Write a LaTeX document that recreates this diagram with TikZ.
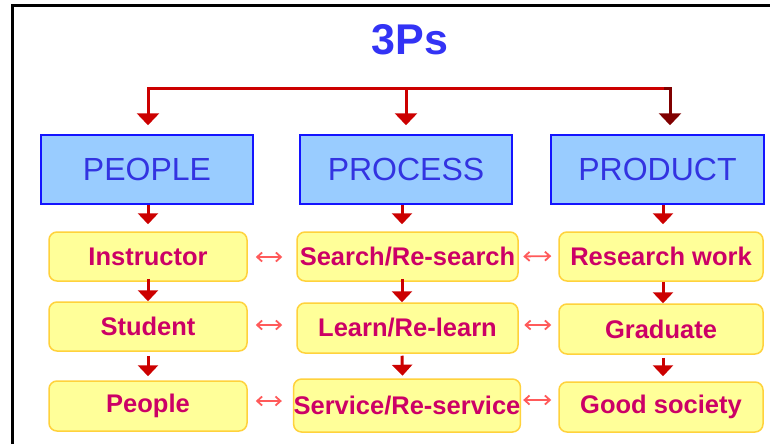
\documentclass[tikz,border=0pt]{standalone}
\usepackage{fontspec}
\setmainfont{Liberation Sans}
\usetikzlibrary{arrows.meta}
\definecolor{titleblue}{RGB}{51,51,245}
\definecolor{labelblue}{RGB}{51,51,225}
\definecolor{boxblue}{RGB}{153,204,255}
\definecolor{edgeblue}{RGB}{20,20,255}
\definecolor{arrred}{RGB}{204,0,0}
\definecolor{arrdark}{RGB}{128,0,0}
\definecolor{lightred}{RGB}{255,90,90}
\definecolor{boxyellow}{RGB}{255,255,153}
\definecolor{edgeyellow}{RGB}{255,210,60}
\definecolor{crimson}{RGB}{204,0,102}
\tikzset{
  topbox/.style={draw=edgeblue, fill=boxblue, line width=1.5pt, minimum height=69pt,
    inner sep=0pt, font=\fontsize{32}{32}\selectfont, text=labelblue},
  itembox/.style={draw=edgeyellow, fill=boxyellow, line width=1.5pt, rounded corners=8pt,
    minimum height=49pt, inner sep=0pt, font=\fontsize{25.5}{25.5}\selectfont\bfseries, text=crimson},
  bigarr/.style={draw=arrred, line width=3pt, -{Triangle[width=22pt,length=12pt]}},
  colarr/.style={draw=arrred, line width=3pt, -{Triangle[width=20pt,length=11pt]}},
  dblarr/.style={draw=lightred, line width=1.8pt, {Straight Barb[width=9pt,length=5pt]}-{Straight Barb[width=9pt,length=5pt]}},
}
\begin{document}
\begin{tikzpicture}[x=1pt,y=-1pt]
\useasboundingbox (0,0) rectangle (770,444);
\fill[white] (0,0) rectangle (770,444);
% frame
\coordinate (fb) at (12,444);
\coordinate (fc) at (12,5.5);
\coordinate (fr) at (770,5.5);
\draw[black, line width=3pt] (fb) -- (fc) -- (fr);

% title
\node[font=\fontsize{43}{43}\selectfont\bfseries, text=titleblue] (title) at (410,40) {3Ps};

% top boxes
\node[topbox, minimum width=212pt] (people) at (147,169.5) {PEOPLE};
\node[topbox, minimum width=212pt] (process) at (406,169.5) {PROCESS};
\node[topbox, minimum width=213pt] (product) at (657.5,169.5) {PRODUCT};

% item boxes
\node[itembox, minimum width=198pt] (instr) at (148,256.5) {Instructor};
\node[itembox, minimum width=221pt] (search) at (407.5,256.5) {Search/Re-search};
\node[itembox, minimum width=204pt] (rwork) at (661,256.5) {Research work};

\node[itembox, minimum width=198pt] (student) at (148,326.5) {Student};
\node[itembox, minimum width=221pt, minimum height=50pt] (learn) at (407.5,328) {Learn/Re-learn};
\node[itembox, minimum width=204pt, minimum height=50pt] (grad) at (661,329) {Graduate};

\node[itembox, minimum width=198pt, minimum height=50pt] (ppl) at (148,406) {People};
\node[itembox, minimum width=226pt, minimum height=53pt] (service) at (407,405.5) {Service/Re-service};
\node[itembox, minimum width=204pt, minimum height=50pt] (society) at (661,407) {Good society};

% branch from the title
\coordinate (bl) at (148,88);
\coordinate (bm) at (406,88);
\coordinate (br) at (670,88);
\draw[arrred, line width=3pt, line cap=rect] (bl) -- (br);
\draw[bigarr] (bl) -- ([shift={(1,-9)}]people.north);
\draw[bigarr] (bm) -- ([shift={(0,-9)}]process.north);
\draw[bigarr, draw=arrdark, line cap=rect] ([xshift=-5pt]br) -- (br) -- ([shift={(12.5,-9)}]product.north);

% top boxes to first row
\draw[colarr] ([xshift=1pt]people.south) -- ([shift={(0,-7)}]instr.north);
\draw[colarr] ([xshift=-4pt]process.south) -- ([shift={(-5.5,-7)}]search.north);
\draw[colarr] ([xshift=5.5pt]product.south) -- ([shift={(2,-7)}]rwork.north);

% column arrows
\draw[colarr] ([shift={(0,-3)}]instr.south) -- (student.north);
\draw[colarr] ([shift={(0,4)}]student.south) -- ([shift={(0,-4)}]ppl.north);
\draw[colarr] ([shift={(-5.5,-3)}]search.south) -- ([xshift=-5.5pt]learn.north);
\draw[colarr] ([shift={(-5.5,2)}]learn.south) -- ([shift={(-4.5,-2.5)}]service.north);
\draw[colarr] ([xshift=2pt]rwork.south) -- ([xshift=2pt]grad.north);
\draw[colarr] ([shift={(2,3)}]grad.south) -- ([shift={(2,-5)}]society.north);

% double arrows
\draw[dblarr, shorten <=8pt, shorten >=14pt] ([shift={(0,0.5)}]instr.east) -- ([shift={(0,0.5)}]search.west);
\draw[dblarr, shorten <=8pt, shorten >=14pt] ([shift={(0,-1.5)}]student.east) -- ([shift={(0,-3)}]learn.west);
\draw[dblarr, shorten <=8pt, shorten >=11pt] ([shift={(0,-5)}]ppl.east) -- ([shift={(0,-4.5)}]service.west);
\draw[dblarr, shorten <=4.5pt, shorten >=7pt] (search.east) -- ([shift={(0,-0.5)}]rwork.west);
\draw[dblarr, shorten <=5.5pt, shorten >=7pt] ([shift={(0,-3)}]learn.east) -- ([shift={(0,-4)}]grad.west);
\draw[dblarr, shorten <=2pt, shorten >=7pt] ([shift={(0,-5.5)}]service.east) -- ([shift={(0,-7)}]society.west);
\end{tikzpicture}
\end{document}
